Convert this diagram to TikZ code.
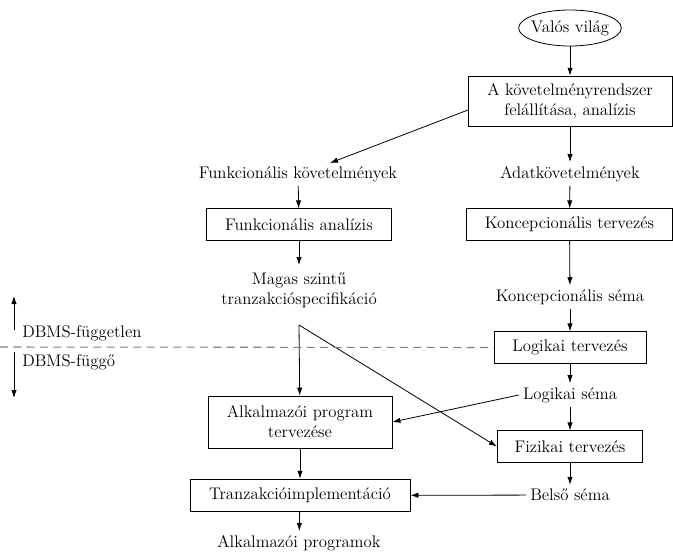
\documentclass[tikz,border=0pt]{standalone}
\usetikzlibrary{shapes.geometric,arrows.meta}
\begin{document}
\begin{tikzpicture}[x=0.75pt,y=-0.75pt,
  every node/.style={font=\fontsize{12.6}{15}\selectfont, align=center, inner sep=0pt},
  boxnode/.style={draw, minimum height=23.5pt, line width=0.6pt},
  plain/.style={inner sep=3pt},
  arr/.style={-{Latex[length=6pt,width=4pt]}, line width=0.6pt},
  ln/.style={line width=0.6pt}]
\useasboundingbox (0,0) rectangle (673,552);
\node[minimum width=77pt, minimum height=27pt] (vilag) at (570,28) {Valós világ};
\draw[ln] (vilag.center) ellipse [x radius=38.5pt, y radius=13.5pt];
\node[boxnode, minimum width=153pt, minimum height=38pt] (kov) at (570,101.5) {A követelményrendszer\\felállítása, analízis};
\node[plain] (funkkov) at (298,174) {Funkcionális követelmények};
\node[plain] (adatkov) at (570,174) {Adatkövetelmények};
\node[boxnode, minimum width=139pt] (funkan) at (299,224.5) {Funkcionális analízis};
\node[boxnode, minimum width=154pt] (koncter) at (569.5,224.5) {Koncepcionális tervezés};
\node[plain] (magas) at (299,290) {Magas szintű\\tranzakcióspecifikáció};
\node[plain] (koncsema) at (570,297) {Koncepcionális séma};
\node[boxnode, minimum width=114pt] (logter) at (570,347.5) {Logikai tervezés};
\node[plain] (logsema) at (570,395) {Logikai séma};
\node[boxnode, minimum width=138pt, minimum height=39pt] (alkter) at (300,422) {Alkalmazói program\\tervezése};
\node[boxnode, minimum width=109pt] (fizter) at (570,446.5) {Fizikai tervezés};
\node[boxnode, minimum width=165pt, minimum height=24.5pt] (tranz) at (300,495.5) {Tranzakcióimplementáció};
\node[plain] (belso) at (570,495) {Belső séma};
\node[plain] (alkprog) at (299,543) {Alkalmazói programok};
\node[plain, anchor=west, inner sep=0pt] (fuggetlen) at (22,333) {DBMS-független};
\node[plain, anchor=west, inner sep=0pt] (fuggo) at (22,362) {DBMS-függő};
\coordinate (magasb) at (299,325);
\coordinate (dashl) at (0,347);
\coordinate (upa) at (14,330);
\coordinate (upb) at (14,296);
\coordinate (dna) at (14,352);
\coordinate (dnb) at (14,398);
\coordinate (kovw) at (468,110);
\coordinate (funkend) at (330,163);
\coordinate (funkanend) at (299,265);

\draw[arr] (vilag) -- (kov);
\draw[arr] (kovw) -- (funkend);
\draw[arr] (kov) -- (adatkov);
\draw[arr] (funkkov) -- (funkan);
\draw[arr] (adatkov) -- (koncter);
\draw[arr] (funkan) -- (funkanend);
\draw[arr] (koncter) -- (koncsema);
\draw[arr] (koncsema) -- (logter);
\draw[arr] (logter) -- (logsema);
\draw[arr] (logsema.west) -- (alkter.east);
\draw[arr] (logsema) -- (fizter);
\draw[arr] (magasb) -- (alkter);
\draw[arr] (magasb) -- (fizter.west);
\draw[arr] (alkter) -- (tranz);
\draw[arr] (fizter) -- (belso);
\draw[arr] (belso) -- (tranz);
\draw[arr] (tranz) -- (alkprog);
\draw[gray, line width=0.8pt, dash pattern=on 6pt off 4pt] (dashl) -- (logter.west);
\draw[arr] (upa) -- (upb);
\draw[arr] (dna) -- (dnb);
\end{tikzpicture}
\end{document}
